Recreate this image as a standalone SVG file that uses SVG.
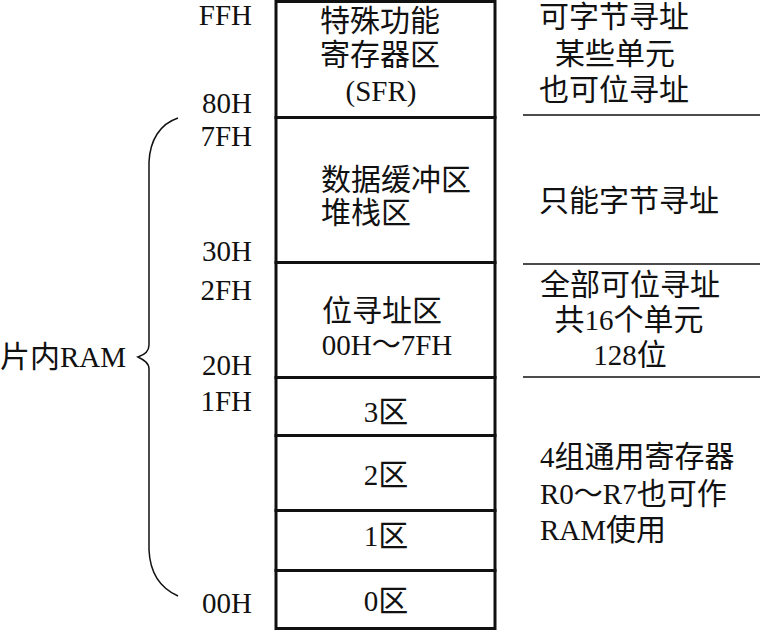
<svg xmlns="http://www.w3.org/2000/svg" width="760" height="632" viewBox="0 0 760 632">
<style>
text{font-family:"Liberation Serif","Noto Sans CJK SC",serif;font-size:29px;fill:#111}
.c{font-size:30px}
.r{text-anchor:end}
.m{text-anchor:middle}
.lat{font-family:"Liberation Serif",serif}
.box{fill:#fff;stroke:#111;stroke-width:3}
.rule{stroke:#111;stroke-width:1.5;fill:none}
</style>
<rect width="760" height="632" fill="#fff"/>
<g id="addresses">
<text class="r lat" x="252" y="25">FFH</text>
<text class="r" x="252" y="113">80H</text>
<text class="r" x="252" y="146">7FH</text>
<text class="r" x="252" y="261">30H</text>
<text class="r" x="252" y="300">2FH</text>
<text class="r" x="252" y="375">20H</text>
<text class="r" x="252" y="411">1FH</text>
<text class="r" x="252" y="613">00H</text>
</g>
<g id="ram-label">
<text x="0" y="367"><tspan class="c">片内</tspan>RAM</text>
<path class="rule" d="M178,118 C160,124 150,140 149,162 L149,345 C149,351 144,355 138,357 C144,360 149,363 149,369 L149,550 C150,572 160,588 178,596"/>
</g>
<g id="sfr">
<rect class="box" x="276" y="1.5" width="219" height="116"/>
<text class="m c" x="380" y="31">特殊功能</text>
<text class="m c" x="380" y="65">寄存器区</text>
<text class="m" x="381" y="101">(SFR)</text>
</g>
<g id="data-buffer">
<rect class="box" x="276" y="117.5" width="219" height="145"/>
<text class="c" x="321" y="190">数据缓冲区</text>
<text class="c" x="321" y="223">堆栈区</text>
</g>
<g id="bit-area">
<rect class="box" x="276" y="262.5" width="219" height="115"/>
<text class="m c" x="382" y="321">位寻址区</text>
<text class="m" x="387" y="355">00H～7FH</text>
</g>
<g id="bank3">
<rect class="box" x="276" y="377.5" width="219" height="58"/>
<text class="m" x="386" y="422">3<tspan class="c">区</tspan></text>
</g>
<g id="bank2">
<rect class="box" x="276" y="435.5" width="219" height="75"/>
<text class="m" x="386" y="485">2<tspan class="c">区</tspan></text>
</g>
<g id="bank1">
<rect class="box" x="276" y="510.5" width="219" height="60"/>
<text class="m" x="386" y="546">1<tspan class="c">区</tspan></text>
</g>
<g id="bank0">
<rect class="box" x="276" y="570.5" width="219" height="58"/>
<text class="m" x="386" y="611">0<tspan class="c">区</tspan></text>
</g>
<g id="notes">
<text class="m c" x="614" y="27">可字节寻址</text>
<text class="m c" x="615" y="64">某些单元</text>
<text class="m c" x="614" y="100">也可位寻址</text>
<line class="rule" x1="523" y1="115" x2="760" y2="115"/>
<text class="c" x="539" y="211">只能字节寻址</text>
<line class="rule" x1="523" y1="264" x2="760" y2="264"/>
<text class="m c" x="630" y="295">全部可位寻址</text>
<text class="m" x="629" y="330"><tspan class="c">共</tspan>16<tspan class="c">个单元</tspan></text>
<text class="m" x="630" y="365">128<tspan class="c">位</tspan></text>
<line class="rule" x1="523" y1="377" x2="760" y2="377"/>
<text x="540" y="467">4<tspan class="c">组通用寄存器</tspan></text>
<text x="540" y="504">R0～R7<tspan class="c">也可作</tspan></text>
<text x="540" y="540">RAM<tspan class="c">使用</tspan></text>
</g>
</svg>
